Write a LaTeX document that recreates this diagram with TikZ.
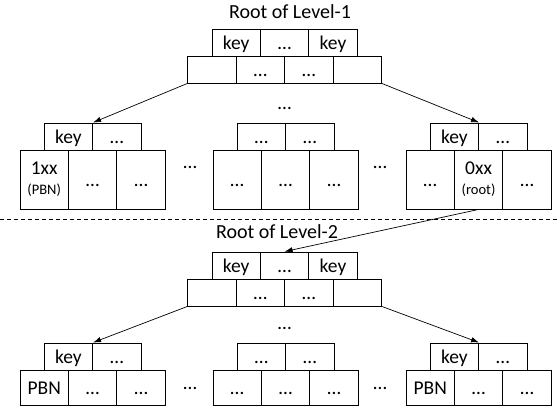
\documentclass[tikz,border=0pt]{standalone}
\usepackage{fontspec}
\setmainfont{Carlito}
\usetikzlibrary{arrows.meta}
\begin{document}
\begin{tikzpicture}[x=1pt,y=-1pt,
    every node/.style={font=\fontsize{19.5}{23}\selectfont},
    cell/.style={draw,line width=0.9pt,minimum width=48.4pt,minimum height=27pt,inner sep=0pt},
    txt/.style={text height=14pt,text depth=0.5pt},
    leaf/.style={cell,minimum height=59pt},
    lowleaf/.style={cell,minimum height=35pt},
    title/.style={font=\fontsize{20}{24}\selectfont}]
  \useasboundingbox (0,0) rectangle (557,406);
  % level 1
  \draw
    (290,12) node[title] (t1){Root of Level-1}
    (236.2,42.5) node[cell,txt] (r1k1){key}
    (284.6,42.5) node[cell,txt] (r1k2){…}
    (333.0,42.5) node[cell,txt] (r1k3){key}
    (212.0,69.5) node[cell,txt] (r1p1){}
    (260.4,69.5) node[cell,txt] (r1p2){…}
    (308.8,69.5) node[cell,txt] (r1p3){…}
    (357.2,69.5) node[cell,txt] (r1p4){}
    (284.6,108) node (dt1){…};
  \draw
    (68.4,136.5) node[cell,txt] (a1){key}
    (116.8,136.5) node[cell,txt] (a2){…}
    (44.2,179.5) node[leaf,align=center] (a3){1xx\\[-3pt]{\fontsize{14.5}{16}\selectfont (PBN)}}
    (92.6,179.5) node[leaf,txt] (a4){…}
    (141.0,179.5) node[leaf,txt] (a5){…}
    (190,167) node (dt2){…}
    (261.4,136.5) node[cell,txt] (b1){…}
    (309.8,136.5) node[cell,txt] (b2){…}
    (237.2,179.5) node[leaf,txt] (b3){…}
    (285.6,179.5) node[leaf,txt] (b4){…}
    (334.0,179.5) node[leaf,txt] (b5){…}
    (380,167) node (dt3){…}
    (454.4,136.5) node[cell,txt] (c1){key}
    (502.8,136.5) node[cell,txt] (c2){…}
    (430.2,179.5) node[leaf,txt] (c3){…}
    (478.6,179.5) node[leaf,align=center] (c4){0xx\\[-3pt]{\fontsize{14.5}{16}\selectfont (root)}}
    (527.0,179.5) node[leaf,txt] (c5){…};
  % level 2
  \draw
    (277,232) node[title] (t2){Root of Level-2}
    (236.2,265.5) node[cell,txt] (r2k1){key}
    (284.6,265.5) node[cell,txt] (r2k2){…}
    (333.0,265.5) node[cell,txt] (r2k3){key}
    (212.0,292.5) node[cell,txt] (r2p1){}
    (260.4,292.5) node[cell,txt] (r2p2){…}
    (308.8,292.5) node[cell,txt] (r2p3){…}
    (357.2,292.5) node[cell,txt] (r2p4){}
    (284.6,328) node (dt4){…};
  \draw
    (68.4,356.5) node[cell,txt] (d1){key}
    (116.8,356.5) node[cell,txt] (d2){…}
    (44.2,387.5) node[lowleaf,txt] (d3){PBN}
    (92.6,387.5) node[lowleaf,txt] (d4){…}
    (141.0,387.5) node[lowleaf,txt] (d5){…}
    (190,388) node (dt5){…}
    (261.4,356.5) node[cell,txt] (e1){…}
    (309.8,356.5) node[cell,txt] (e2){…}
    (237.2,387.5) node[lowleaf,txt] (e3){…}
    (285.6,387.5) node[lowleaf,txt] (e4){…}
    (334.0,387.5) node[lowleaf,txt] (e5){…}
    (380,388) node (dt6){…}
    (454.4,356.5) node[cell,txt] (f1){key}
    (502.8,356.5) node[cell,txt] (f2){…}
    (430.2,387.5) node[lowleaf,txt] (f3){PBN}
    (478.6,387.5) node[lowleaf,txt] (f4){…}
    (527.0,387.5) node[lowleaf,txt] (f5){…};
  \coordinate (dl) at (0,219);
  \coordinate (dr) at (557,219);
  \draw[line width=0.6pt,dash pattern=on 4pt off 3pt] (dl) -- (dr);
  \begin{scope}[line width=0.7pt,-{Latex[length=8pt,width=5.5pt]}]
    \draw (r1p1.south west) to (a1.north east);
    \draw (r1p4.south east) to (c1.north east);
    \draw (c4.south) to (r2k2.north);
    \draw (r2p1.south west) to (d1.north east);
    \draw (r2p4.south east) to (f1.north east);
  \end{scope}
\end{tikzpicture}
\end{document}
